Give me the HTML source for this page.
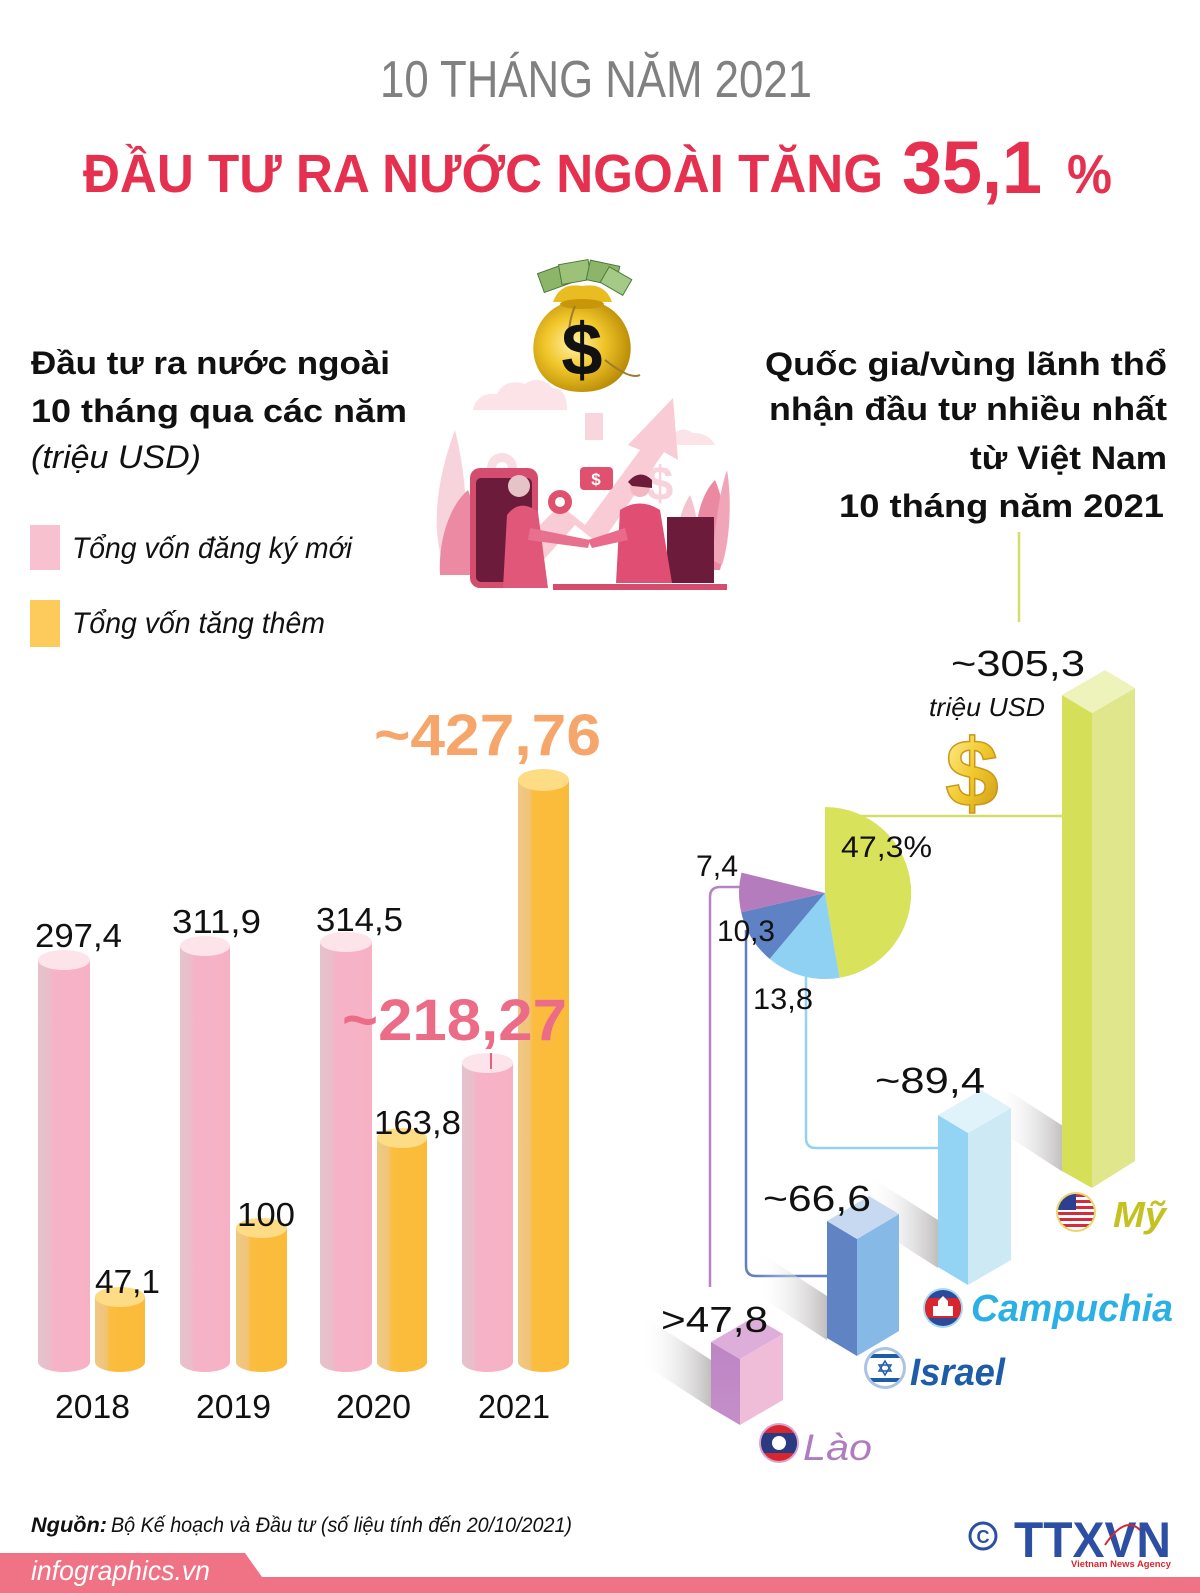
<!DOCTYPE html>
<html><head><meta charset="utf-8"><style>
html,body{margin:0;padding:0;background:#fff;}
svg{display:block;}
text{font-family:"Liberation Sans","DejaVu Sans",sans-serif;}
</style></head><body>
<svg width="1200" height="1593" viewBox="0 0 1200 1593" xmlns="http://www.w3.org/2000/svg">
<defs>
<linearGradient id="pc" x1="0" x2="1" y1="0" y2="0"><stop offset="0" stop-color="#e4c3cd"/><stop offset="0.22" stop-color="#eabdca"/><stop offset="0.3" stop-color="#f6b3c7"/><stop offset="1" stop-color="#f7b1c5"/></linearGradient>
<linearGradient id="oc" x1="0" x2="1" y1="0" y2="0"><stop offset="0" stop-color="#eec985"/><stop offset="0.22" stop-color="#f1c479"/><stop offset="0.3" stop-color="#fbbd3e"/><stop offset="1" stop-color="#fbbb3a"/></linearGradient>
<linearGradient id="sh" x1="1" x2="0" y1="0" y2="0"><stop offset="0" stop-color="#bdbaba" stop-opacity="0.95"/><stop offset="1" stop-color="#ffffff" stop-opacity="0"/></linearGradient>
<linearGradient id="gold" x1="0" x2="1" y1="0" y2="1"><stop offset="0" stop-color="#fff3a0"/><stop offset="0.5" stop-color="#f2c92c"/><stop offset="1" stop-color="#c99612"/></linearGradient>
<radialGradient id="bag" cx="0.42" cy="0.45" r="0.6"><stop offset="0" stop-color="#fff3a8"/><stop offset="0.5" stop-color="#f1c62a"/><stop offset="1" stop-color="#b88a06"/></radialGradient>
<linearGradient id="laoF" x1="0" x2="0" y1="0" y2="1"><stop offset="0" stop-color="#bd85c4"/><stop offset="1" stop-color="#c48fc9"/></linearGradient>
<clipPath id="cUS"><circle cx="1076" cy="1212" r="18"/></clipPath>
<clipPath id="cKH"><circle cx="943" cy="1308" r="18"/></clipPath>
<clipPath id="cIL"><circle cx="885" cy="1368" r="18"/></clipPath>
<clipPath id="cLA"><circle cx="779" cy="1443" r="18"/></clipPath>
</defs>

<!-- Titles -->
<text x="380" y="97" font-size="52" fill="#808080" textLength="432" lengthAdjust="spacingAndGlyphs">10 THÁNG NĂM 2021</text>
<text x="83" y="192" font-size="54" font-weight="bold" fill="#e5304f" textLength="800" lengthAdjust="spacingAndGlyphs">ĐẦU TƯ RA NƯỚC NGOÀI TĂNG</text>
<text x="902" y="193" font-size="74" font-weight="bold" fill="#e5304f" textLength="140" lengthAdjust="spacingAndGlyphs">35,1</text>
<text x="1067" y="193" font-size="55" font-weight="bold" fill="#e5304f" textLength="45" lengthAdjust="spacingAndGlyphs">%</text>

<!-- Left heading -->
<text x="31" y="374" font-size="32" font-weight="bold" fill="#111" textLength="359" lengthAdjust="spacingAndGlyphs">Đầu tư ra nước ngoài</text>
<text x="31" y="422" font-size="32" font-weight="bold" fill="#111" textLength="376" lengthAdjust="spacingAndGlyphs">10 tháng qua các năm</text>
<text x="31" y="468" font-size="32" font-style="italic" fill="#111" textLength="170" lengthAdjust="spacingAndGlyphs">(triệu USD)</text>
<rect x="30" y="525" width="30" height="45" fill="#f8c1cf"/>
<text x="72" y="558" font-size="30" font-style="italic" fill="#111" textLength="280" lengthAdjust="spacingAndGlyphs">Tổng vốn đăng ký mới</text>
<rect x="30" y="600" width="30" height="47" fill="#fccb5c"/>
<text x="72" y="633" font-size="30" font-style="italic" fill="#111" textLength="253" lengthAdjust="spacingAndGlyphs">Tổng vốn tăng thêm</text>

<!-- Illustration: scene -->
<g>
<path d="M473 410 q4 -18 24 -16 q8 -16 28 -10 q14 -10 28 4 q14 0 14 22 z" fill="#fbe3e8"/>
<path d="M655 445 q4 -12 18 -10 q8 -10 20 -2 q16 0 22 12 z" fill="#fbe3e8"/>
<path d="M500 565 L560 505 L585 525 L640 450 L628 445 L673 398 L678 460 L664 452 L600 545 L575 525 L530 575 z" fill="#f8cbd5"/>
<rect x="585" y="413" width="18" height="27" fill="#f9d6de"/>
<circle cx="502" cy="468" r="15" fill="#f8dde3"/>
<circle cx="502" cy="468" r="6" fill="#fff"/>
<text x="660" y="500" font-size="48" font-weight="bold" fill="#f9d3dc" text-anchor="middle">$</text>
<path d="M442 560 C430 520 440 470 455 430 C465 470 470 520 462 560 z" fill="#f7d4dc"/>
<path d="M440 575 C438 540 450 505 468 490 C480 520 478 555 470 575 z" fill="#eb8aa2"/>
<path d="M700 570 C690 530 700 495 715 480 C728 510 727 545 720 570 z" fill="#ec89a2"/>
<path d="M712 560 C716 520 720 490 727 470 C732 500 730 540 722 565 z" fill="#f1a5b8"/>
<path d="M678 570 C672 540 680 510 690 495 C700 520 700 550 694 570 z" fill="#f5c3cf"/>
<rect x="470" y="468" width="68" height="120" rx="10" fill="#d44d6e"/>
<rect x="476" y="478" width="56" height="104" rx="5" fill="#6d1b3a"/>
<circle cx="519" cy="486" r="11" fill="#e6c3c6"/>
<path d="M503 588 L507 515 Q520 498 538 512 L548 588 z" fill="#e1577a"/>
<path d="M530 528 L590 540 L588 548 L528 540 z" fill="#e8708f"/>
<rect x="667" y="517" width="47" height="66" fill="#6d1b3a"/>
<rect x="553" y="584" width="174" height="6" fill="#d44d6e"/>
<circle cx="640" cy="487" r="10" fill="#f3b7c2"/>
<path d="M628 482 Q640 468 652 480 L652 488 L632 486 z" fill="#6d1b3a"/>
<path d="M616 583 L620 510 Q640 497 660 510 L672 583 z" fill="#e14e73"/>
<path d="M588 540 L625 528 L628 540 L592 548 z" fill="#eb6a8b"/>
<rect x="580" y="467" width="33" height="23" rx="4" fill="#e0506f"/>
<text x="596" y="485" font-size="17" font-weight="bold" fill="#fff" text-anchor="middle">$</text>
<circle cx="560" cy="502" r="12" fill="#e0506f"/>
<circle cx="560" cy="502" r="5" fill="#fff"/>
</g>

<!-- Money bag -->
<g>
<rect x="540" y="268" width="30" height="20" fill="#8db56a" stroke="#4d7a3a" transform="rotate(-20 555 278)"/>
<rect x="560" y="262" width="30" height="20" fill="#9cc27a" stroke="#4d7a3a" transform="rotate(-10 575 272)"/>
<rect x="588" y="263" width="30" height="20" fill="#8db56a" stroke="#4d7a3a" transform="rotate(12 603 273)"/>
<rect x="603" y="272" width="26" height="18" fill="#a5c987" stroke="#4d7a3a" transform="rotate(30 616 281)"/>
<path d="M553 302 Q560 282 582 286 Q605 282 612 302 z" fill="#e9bc22"/>
<path d="M562 304 C520 322 522 392 582 392 C642 392 644 322 602 304 z" fill="url(#bag)"/>
<ellipse cx="582" cy="304" rx="22" ry="5" fill="#c8960a"/>
<path d="M575 306 Q565 330 572 350 M605 360 Q630 380 640 375" stroke="#a07a2a" stroke-width="2" fill="none"/>
<text x="582" y="375" font-size="74" font-weight="bold" fill="#111" text-anchor="middle">$</text>
</g>

<!-- Right heading -->
<text x="1167" y="375" font-size="32" font-weight="bold" fill="#111" text-anchor="end" textLength="402" lengthAdjust="spacingAndGlyphs">Quốc gia/vùng lãnh thổ</text>
<text x="1167" y="420" font-size="32" font-weight="bold" fill="#111" text-anchor="end" textLength="398" lengthAdjust="spacingAndGlyphs">nhận đầu tư nhiều nhất</text>
<text x="1167" y="469" font-size="32" font-weight="bold" fill="#111" text-anchor="end" textLength="197" lengthAdjust="spacingAndGlyphs">từ Việt Nam</text>
<text x="1164" y="517" font-size="32" font-weight="bold" fill="#111" text-anchor="end" textLength="325" lengthAdjust="spacingAndGlyphs">10 tháng năm 2021</text>

<!-- Left bar chart (cylinders) -->
<g>
<path d="M38 960 L38 1362 A26 10 0 0 0 90 1362 L90 960 Z" fill="url(#pc)"/><ellipse cx="64" cy="960" rx="26" ry="10" fill="#fde3ea"/>
<path d="M95 1297 L95 1362 A25 10 0 0 0 145 1362 L145 1297 Z" fill="url(#oc)"/><ellipse cx="120" cy="1297" rx="25" ry="10" fill="#fedc86"/>
<path d="M180 946 L180 1362 A25 10 0 0 0 230 1362 L230 946 Z" fill="url(#pc)"/><ellipse cx="205" cy="946" rx="25" ry="10" fill="#fde3ea"/>
<path d="M236 1228 L236 1362 A25.5 10 0 0 0 287 1362 L287 1228 Z" fill="url(#oc)"/><ellipse cx="261.5" cy="1228" rx="25.5" ry="10" fill="#fedc86"/>
<path d="M320 942 L320 1362 A26 10 0 0 0 372 1362 L372 942 Z" fill="url(#pc)"/><ellipse cx="346" cy="942" rx="26" ry="10" fill="#fde3ea"/>
<path d="M377 1138 L377 1362 A25 10 0 0 0 427 1362 L427 1138 Z" fill="url(#oc)"/><ellipse cx="402" cy="1138" rx="25" ry="10" fill="#fedc86"/>
<path d="M462 1063 L462 1362 A25.5 10 0 0 0 513 1362 L513 1063 Z" fill="url(#pc)"/><ellipse cx="487.5" cy="1063" rx="25.5" ry="10" fill="#fde3ea"/>
<path d="M518 780 L518 1362 A25.5 10 0 0 0 569 1362 L569 780 Z" fill="url(#oc)"/><ellipse cx="543.5" cy="780" rx="25.5" ry="11" fill="#fedc86"/>
<line x1="491" y1="1053" x2="491" y2="1069" stroke="#e8607e" stroke-width="2"/>
</g>
<text x="35" y="947" font-size="33" fill="#111" textLength="87" lengthAdjust="spacingAndGlyphs">297,4</text>
<text x="95" y="1293" font-size="33" fill="#111" textLength="65" lengthAdjust="spacingAndGlyphs">47,1</text>
<text x="172" y="933" font-size="33" fill="#111" textLength="89" lengthAdjust="spacingAndGlyphs">311,9</text>
<text x="237" y="1226" font-size="33" fill="#111" textLength="58" lengthAdjust="spacingAndGlyphs">100</text>
<text x="316" y="931" font-size="33" fill="#111" textLength="87" lengthAdjust="spacingAndGlyphs">314,5</text>
<text x="374" y="1134" font-size="33" fill="#111" textLength="87" lengthAdjust="spacingAndGlyphs">163,8</text>
<text x="342" y="1040" font-size="58" font-weight="bold" fill="#ec6b86" textLength="225" lengthAdjust="spacingAndGlyphs">~218,27</text>
<text x="374" y="755" font-size="58" font-weight="bold" fill="#f6a66a" textLength="227" lengthAdjust="spacingAndGlyphs">~427,76</text>
<text x="55" y="1418" font-size="33" fill="#111" textLength="75" lengthAdjust="spacingAndGlyphs">2018</text>
<text x="196" y="1418" font-size="33" fill="#111" textLength="75" lengthAdjust="spacingAndGlyphs">2019</text>
<text x="336" y="1418" font-size="33" fill="#111" textLength="75" lengthAdjust="spacingAndGlyphs">2020</text>
<text x="478" y="1418" font-size="33" fill="#111" textLength="72" lengthAdjust="spacingAndGlyphs">2021</text>

<!-- Right chart: connector lines -->
<line x1="1019" y1="532" x2="1019" y2="622" stroke="#d5de6a" stroke-width="2.5"/>
<line x1="825" y1="816" x2="1064" y2="816" stroke="#d5de6a" stroke-width="2.5"/>
<path d="M742 887 L720 887 Q710 887 710 897 L710 1287" stroke="#b583c6" stroke-width="2.5" fill="none"/>
<path d="M746 930 L746 1266 Q746 1276 756 1276 L828 1276" stroke="#5f7fc0" stroke-width="2.5" fill="none"/>
<path d="M806 976 L806 1138 Q806 1148 816 1148 L939 1148" stroke="#94d2ef" stroke-width="2.5" fill="none"/>

<!-- Shadows -->
<polygon points="1063,1126 1063,1172 995,1128 995,1082" fill="url(#sh)"/>
<polygon points="938,1220 938,1268 866,1222 866,1174" fill="url(#sh)"/>
<polygon points="827,1296 827,1340 756,1294 756,1250" fill="url(#sh)"/>
<polygon points="711,1360 711,1408 640,1362 640,1314" fill="url(#sh)"/>

<!-- Pie -->
<path d="M825 893 L825 807 A86 86 0 0 1 839.5 977.8 Z" fill="#d8e25a"/>
<path d="M825 893 L839.5 977.8 A86 86 0 0 1 769.7 958.9 Z" fill="#8fd1f2"/>
<path d="M825 893 L769.7 958.9 A86 86 0 0 1 741.2 912.2 Z" fill="#5f82c4"/>
<path d="M825 893 L741.2 912.2 A86 86 0 0 1 741.5 872.6 Z" fill="#b47bbd"/>
<text x="841" y="857" font-size="30" fill="#111" textLength="91" lengthAdjust="spacingAndGlyphs">47,3%</text>
<text x="696" y="876" font-size="30" fill="#111" textLength="42" lengthAdjust="spacingAndGlyphs">7,4</text>
<text x="717" y="941" font-size="30" fill="#111" textLength="58" lengthAdjust="spacingAndGlyphs">10,3</text>
<text x="753" y="1009" font-size="30" fill="#111" textLength="60" lengthAdjust="spacingAndGlyphs">13,8</text>

<!-- Gold dollar -->
<text x="972" y="806" font-size="96" font-weight="bold" fill="url(#gold)" stroke="#c9971a" stroke-width="1.5" text-anchor="middle">$</text>

<!-- 3D bars -->
<polygon points="1062,695 1092,713 1092,1188 1062,1171" fill="#d5df58"/>
<polygon points="1092,713 1135,688 1135,1161 1092,1188" fill="#e0e68c"/>
<polygon points="1062,695 1105,670 1135,688 1092,713" fill="#eef3bb"/>
<polygon points="938,1115 968,1133 968,1285 938,1267" fill="#93d3f3"/>
<polygon points="968,1133 1011,1108 1011,1260 968,1285" fill="#cdeaf4"/>
<polygon points="938,1115 981,1090 1011,1108 968,1133" fill="#e0f2fa"/>
<polygon points="827,1221 857,1239 857,1356 827,1338" fill="#5f83c3"/>
<polygon points="857,1239 899,1214 899,1331 857,1356" fill="#87b9e7"/>
<polygon points="827,1221 869,1196 899,1214 857,1239" fill="#c6d9f0"/>
<polygon points="711,1342 740,1359 740,1425 711,1408" fill="url(#laoF)"/>
<polygon points="740,1359 783,1334 783,1400 740,1425" fill="#f0bdd9"/>
<polygon points="711,1342 754,1317 783,1334 740,1359" fill="#dcaed9"/>

<!-- Value labels -->
<text x="951" y="676" font-size="36" fill="#111" textLength="134" lengthAdjust="spacingAndGlyphs">~305,3</text>
<text x="929" y="716" font-size="26" font-style="italic" fill="#111" textLength="116" lengthAdjust="spacingAndGlyphs">triệu USD</text>
<text x="875" y="1093" font-size="36" fill="#111" textLength="110" lengthAdjust="spacingAndGlyphs">~89,4</text>
<text x="763" y="1211" font-size="36" fill="#111" textLength="108" lengthAdjust="spacingAndGlyphs">~66,6</text>
<text x="661" y="1332" font-size="36" fill="#111" textLength="107" lengthAdjust="spacingAndGlyphs">&gt;47,8</text>

<!-- Flags -->
<g>
<circle cx="1076" cy="1212" r="20" fill="#e8d76a"/>
<g clip-path="url(#cUS)">
<rect x="1056" y="1192" width="40" height="40" fill="#fff"/>
<rect x="1056" y="1194" width="40" height="3" fill="#d52b3a"/>
<rect x="1056" y="1200" width="40" height="3" fill="#d52b3a"/>
<rect x="1056" y="1206" width="40" height="3" fill="#d52b3a"/>
<rect x="1056" y="1212" width="40" height="3" fill="#d52b3a"/>
<rect x="1056" y="1218" width="40" height="3" fill="#d52b3a"/>
<rect x="1056" y="1224" width="40" height="3" fill="#d52b3a"/>
<rect x="1056" y="1192" width="20" height="18" fill="#2f3f8f"/>
</g>
<circle cx="943" cy="1308" r="20" fill="#a8d8f0"/>
<g clip-path="url(#cKH)">
<rect x="923" y="1288" width="40" height="40" fill="#2a4a9a"/>
<rect x="923" y="1298" width="40" height="20" fill="#d9262e"/>
<path d="M933 1316 L933 1306 L938 1306 L938 1301 L943 1296 L948 1301 L948 1306 L953 1306 L953 1316 Z" fill="#fff"/>
</g>
<circle cx="885" cy="1368" r="21" fill="#a9c4e4"/>
<g clip-path="url(#cIL)">
<rect x="865" y="1348" width="40" height="40" fill="#fff"/>
<rect x="865" y="1354" width="40" height="4" fill="#1f5ca8"/>
<rect x="865" y="1378" width="40" height="4" fill="#1f5ca8"/>
<polygon points="885,1361 891,1371 879,1371" fill="none" stroke="#1f5ca8" stroke-width="1.5"/>
<polygon points="885,1375 891,1365 879,1365" fill="none" stroke="#1f5ca8" stroke-width="1.5"/>
</g>
<circle cx="779" cy="1443" r="20" fill="#d7a3d3"/>
<g clip-path="url(#cLA)">
<rect x="759" y="1423" width="40" height="40" fill="#d9262e"/>
<rect x="759" y="1433" width="40" height="20" fill="#2a3a80"/>
<circle cx="779" cy="1443" r="7" fill="#fff"/>
</g>
</g>
<text x="1113" y="1227" font-size="36" font-weight="bold" font-style="italic" fill="#c6c122" textLength="53" lengthAdjust="spacingAndGlyphs">Mỹ</text>
<text x="971" y="1321" font-size="38" font-weight="bold" font-style="italic" fill="#2ab0e4" textLength="202" lengthAdjust="spacingAndGlyphs">Campuchia</text>
<text x="910" y="1385" font-size="38" font-weight="bold" font-style="italic" fill="#1d5ca6" textLength="95" lengthAdjust="spacingAndGlyphs">Israel</text>
<text x="803" y="1460" font-size="37" font-style="italic" fill="#b07cc0" textLength="69" lengthAdjust="spacingAndGlyphs">Lào</text>

<!-- Footer -->
<text x="31" y="1532" font-size="21" font-weight="bold" font-style="italic" fill="#111" textLength="76" lengthAdjust="spacingAndGlyphs">Nguồn:</text>
<text x="111" y="1532" font-size="21" font-style="italic" fill="#111" textLength="461" lengthAdjust="spacingAndGlyphs">Bộ Kế hoạch và Đầu tư (số liệu tính đến 20/10/2021)</text>
<circle cx="983" cy="1536" r="13" fill="none" stroke="#2d4fa3" stroke-width="3"/>
<text x="983" y="1543" font-size="18" font-weight="bold" fill="#2d4fa3" text-anchor="middle">C</text>
<text x="1014" y="1557" font-size="50" font-weight="bold" fill="#2d4fa3" textLength="157" lengthAdjust="spacingAndGlyphs">TTXVN</text>
<path d="M1105 1545 Q1125 1515 1140 1530" stroke="#d9262e" stroke-width="2" fill="none"/>
<text x="1071" y="1567" font-size="9" font-weight="bold" fill="#d9262e" textLength="100" lengthAdjust="spacingAndGlyphs">Vietnam News Agency</text>

<polygon points="0,1553 245,1553 262,1577 1200,1577 1200,1593 0,1593" fill="#f07385"/>
<text x="31" y="1580" font-size="28" font-style="italic" fill="#fff" textLength="179" lengthAdjust="spacingAndGlyphs">infographics.vn</text>
</svg>
</body></html>
